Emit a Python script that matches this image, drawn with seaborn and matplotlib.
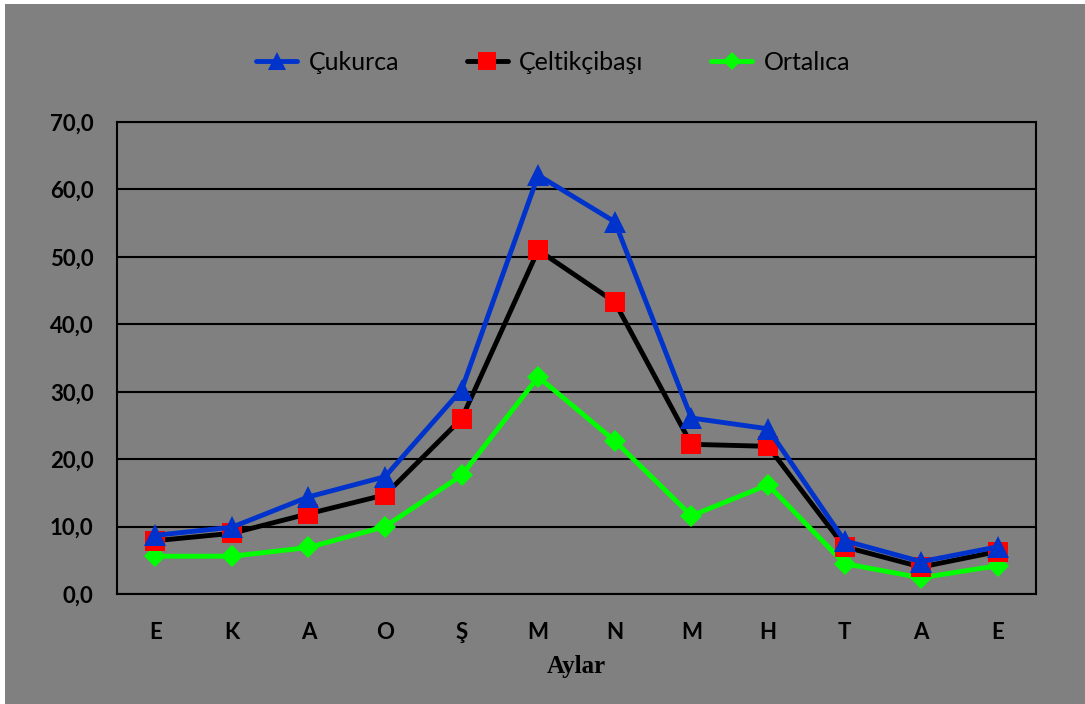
import matplotlib
matplotlib.use("Agg")
import matplotlib.pyplot as plt
from matplotlib.patches import Rectangle
from matplotlib.ticker import FuncFormatter, MultipleLocator
import seaborn as sns
import numpy as np

# Months (Ekim .. Eylül)
months = ["E", "K", "A", "O", "Ş", "M", "N", "M", "H", "T", "A", "E"]

# Monthly values per station
cukurca = [8.7, 9.9, 14.4, 17.4, 30.3, 62.1, 55.2, 26.1, 24.5, 7.9, 4.8, 7.0]
celtikcibasi = [7.9, 9.0, 11.9, 14.7, 26.0, 51.0, 43.3, 22.2, 21.9, 7.0, 4.0, 6.3]
ortalica = [5.6, 5.6, 6.9, 10.0, 17.6, 32.2, 22.7, 11.6, 16.2, 4.5, 2.4, 4.2]

series_names = ["Çukurca", "Çeltikçibaşı", "Ortalıca"]
series_values = [cukurca, celtikcibasi, ortalica]

sns.set_theme(style="white")
plt.rcParams["font.family"] = ["Lato", "DejaVu Sans"]

BG = "#808080"
fig = plt.figure(figsize=(10.85, 7.04), dpi=100, facecolor=BG)
ax = fig.add_axes([117 / 1085, 1 - 594 / 704, (1036 - 117) / 1085, (594 - 122) / 704])
ax.set_facecolor(BG)

x = np.arange(len(months))
styles = [
    dict(color="#0033CC", line_color="#0033CC", marker="^", ms=16, lw=3.5, z=5),
    dict(color="#FF0000", line_color="#000000", marker="s", ms=14.5, lw=3.5, z=4),
    dict(color="#00FF00", line_color="#00FF00", marker="D", ms=11, lw=3.5, z=3),
]

handles = []
for name, vals, st in zip(series_names, series_values, styles):
    sns.lineplot(x=x, y=vals, ax=ax, color=st["line_color"], linewidth=st["lw"],
                 marker=st["marker"], markersize=st["ms"],
                 markerfacecolor=st["color"], markeredgecolor=st["color"],
                 markeredgewidth=0, zorder=st["z"], sort=False, clip_on=False)
    h, = ax.plot([], [], color=st["line_color"], linewidth=st["lw"],
                 marker=st["marker"], markersize=st["ms"] * 0.85,
                 markerfacecolor=st["color"], markeredgecolor=st["color"],
                 markeredgewidth=0, solid_capstyle="round")
    handles.append(h)

ax.set_xlim(-0.5, len(months) - 0.5)
ax.set_ylim(0, 70)
ax.yaxis.set_major_locator(MultipleLocator(10))
ax.yaxis.set_major_formatter(FuncFormatter(lambda v, p: f"{v:.1f}".replace(".", ",")))
ax.set_xticks(x)
ax.set_xticklabels(months)
ax.set_xticks(np.arange(-0.5, len(months)), minor=True)

ax.grid(axis="y", color="black", linewidth=1.5)
ax.set_axisbelow(True)
for s in ax.spines.values():
    s.set_visible(True)
    s.set_color("black")
    s.set_linewidth(1.5)

ax.tick_params(axis="y", which="major", direction="out", length=5, width=1.5,
               color="black", pad=12, labelsize=16, labelcolor="black")
ax.tick_params(axis="x", which="major", length=0, pad=20, labelsize=16,
               labelcolor="black")
ax.tick_params(axis="x", which="minor", direction="out", length=6.5, width=1.5,
               color="black")
for lbl in ax.get_xticklabels() + ax.get_yticklabels():
    lbl.set_fontweight("bold")

ax.set_xlabel("Aylar", fontsize=18, fontweight="bold",
              family=["Liberation Serif", "DejaVu Serif"], color="black", labelpad=9)
ax.set_ylabel("")

fig.legend(handles, series_names, loc="center", bbox_to_anchor=(553 / 1085, 1 - 62 / 704),
           ncol=3, frameon=False, fontsize=18, handlelength=1.65, handletextpad=0.45,
           columnspacing=2.7, labelcolor="black")

# thin light margins on the left and top edges
fig.patches.append(Rectangle((0, 0), 5 / 1085, 1, transform=fig.transFigure,
                             facecolor="white", edgecolor="none", zorder=-1))
fig.patches.append(Rectangle((0, 1 - 4 / 704), 1, 4 / 704, transform=fig.transFigure,
                             facecolor="white", edgecolor="none", zorder=-1))

fig.savefig("out.png", dpi=100, facecolor=BG)
